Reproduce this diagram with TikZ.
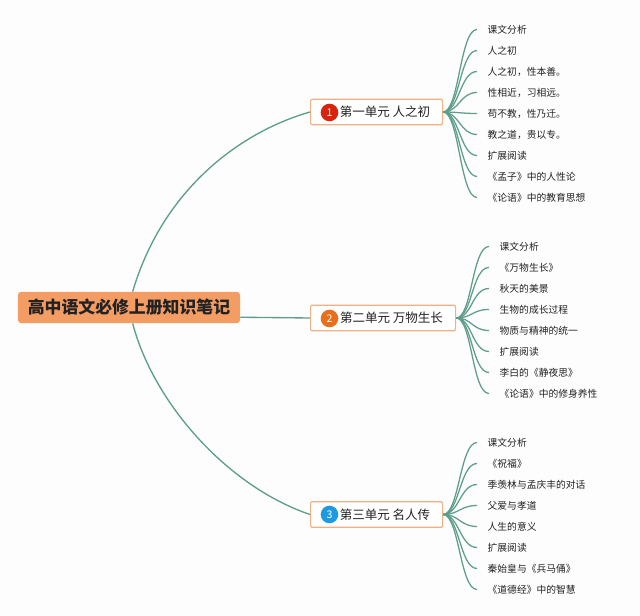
\documentclass[tikz,border=0pt]{standalone}
\usepackage{fontspec}
\setmainfont{Noto Sans CJK SC}
\usetikzlibrary{positioning}
\definecolor{paper}{HTML}{FDFDFE}
\definecolor{peach}{HTML}{F39C63}
\definecolor{edge}{HTML}{F0B083}
\definecolor{sage}{HTML}{5E9E8A}
\definecolor{ink}{HTML}{222222}
\definecolor{redbadge}{HTML}{D9230F}
\definecolor{orangebadge}{HTML}{E8701C}
\definecolor{bluebadge}{HTML}{1E9BE0}
\tikzset{
  root/.style={fill=peach,rounded corners=2.2pt,minimum width=5.55cm,minimum height=0.78cm,
    inner sep=0pt,font=\fontsize{12}{14}\selectfont\bfseries,text=ink},
  unit/.style={draw=edge,line width=0.8pt,fill=white,rounded corners=1pt,anchor=west,
    minimum height=0.64cm,inner sep=0pt,font=\fontsize{8.9}{11}\selectfont,text=ink},
  badge/.style={circle,inner sep=0pt,minimum size=0.44cm,text=white,font=\fontsize{7.5}{9}\selectfont},
  leaf/.style={anchor=west,inner sep=0pt,inner xsep=0.26cm,font=\fontsize{6.95}{9}\selectfont,text=ink},
  link/.style={draw=sage,line width=0.95pt},
  twig/.style={draw=sage,line width=0.9pt},
}
\begin{document}
\begin{tikzpicture}[x=0.025cm,y=-0.025cm]
  \useasboundingbox[fill=paper] (0,0) rectangle (640,616);

  \node[root] (book) at (129,307.5) {高中语文必修上册知识笔记};

  \node[unit,minimum width=3.3cm,align=left] (u1) at (310,112) {\hspace{0.72cm}第一单元 人之初\hspace{0.3cm}};
  \node[unit,minimum width=3.625cm,align=left] (u2) at (310,318) {\hspace{0.72cm}第二单元 万物生长\hspace{0.3cm}};
  \node[unit,minimum width=3.3cm,align=left] (u3) at (310,514.5) {\hspace{0.72cm}第三单元 名人传\hspace{0.3cm}};
  \node[badge,fill=redbadge] (n1) at (329.5,112.5) {1};
  \node[badge,fill=orangebadge] (n2) at (329.5,318.5) {2};
  \node[badge,fill=bluebadge] (n3) at (329.5,514.5) {3};

  \draw[link] (book.77) .. controls +(30,-102) and +(-70,20) .. (u1.west);
  \draw[link] (book.-5) -- (u2.west);
  \draw[link] (book.283) .. controls +(20,77) and +(-85,-29) .. (u3.west);

  \foreach \y/\lab [count=\i] in {%
    29.5/课文分析,50.5/人之初,71.5/人之初，性本善。,92.5/性相近，习相远。,113.5/苟不教，性乃迁。,
    134.5/教之道，贵以专。,155.5/扩展阅读,176.5/《孟子》中的人性论,197.5/《论语》中的教育思想}{
    \node[leaf] (a\i) at (477,\y) {\lab};
    \draw[twig] (u1.east) .. controls +(16,0) and +(-17,0) .. (a\i.west);}
  \foreach \y/\lab [count=\i] in {%
    246.5/课文分析,267.5/《万物生长》,288.5/秋天的美景,309.5/生物的成长过程,330.5/物质与精神的统一,
    351.5/扩展阅读,372.5/李白的《静夜思》,393.5/《论语》中的修身养性}{
    \node[leaf] (b\i) at (489,\y) {\lab};
    \draw[twig] (u2.east) .. controls +(16,0) and +(-17,0) .. (b\i.west);}
  \foreach \y/\lab [count=\i] in {%
    442.5/课文分析,463.5/《祝福》,484.5/季羡林与孟庆丰的对话,505.5/父爱与孝道,526.5/人生的意义,
    547.5/扩展阅读,568.5/秦始皇与《兵马俑》,589.5/《道德经》中的智慧}{
    \node[leaf] (c\i) at (477,\y) {\lab};
    \draw[twig] (u3.east) .. controls +(16,0) and +(-17,0) .. (c\i.west);}
\end{tikzpicture}
\end{document}
